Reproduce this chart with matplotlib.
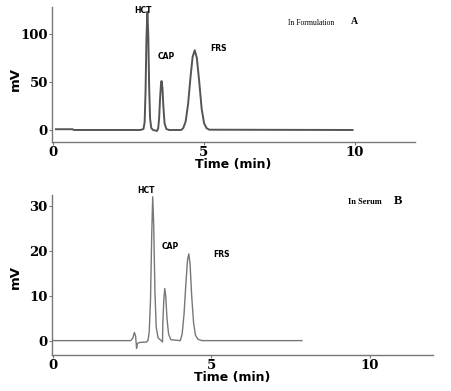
import matplotlib
matplotlib.use('Agg')
from matplotlib import pyplot as plt

# trace A (in formulation): time (min), signal (mV)
time_a = [0.1, 0.65, 0.7, 2.9, 3.0, 3.04, 3.07, 3.10, 3.13, 3.16, 3.19, 3.22, 3.26, 3.32,
          3.45, 3.49, 3.52, 3.55, 3.58, 3.60, 3.63, 3.66, 3.70, 3.76, 3.85,
          4.25, 4.32, 4.40, 4.48, 4.56, 4.63, 4.70, 4.77, 4.85, 4.93, 5.01, 5.09, 5.18, 9.93]
mv_a = [0.8, 0.8, 0.0, 0.0, 1, 8, 40, 95, 123, 100, 45, 12, 2, 0,
        -1, 2, 12, 32, 47, 51, 44, 25, 7, 1, 0,
        0, 2, 9, 27, 55, 76, 83, 75, 50, 22, 7, 2, 0.3, 0]

# trace B (in serum)
time_b = [0.0, 2.45, 2.52, 2.57, 2.61, 2.64, 2.67, 2.75, 2.95, 3.0, 3.04, 3.08, 3.12, 3.15,
          3.18, 3.22, 3.26, 3.32, 3.42, 3.46, 3.47, 3.50, 3.53, 3.56, 3.60, 3.65, 3.72,
          4.02, 4.08, 4.14, 4.20, 4.25, 4.29, 4.33, 4.38, 4.44, 4.50, 4.58, 4.70, 7.86]
mv_b = [0.0, 0.0, 0.5, 1.8, 1.0, -1.7, -0.6, -0.4, -0.3, 0.0, 2, 9, 24, 32,
        26, 11, 3, 0.6, 0.0, -0.3, 4, 9, 11.6, 10, 5, 1.5, 0.2,
        0.0, 1.5, 6, 13, 18, 19.3, 17, 10, 4, 1.2, 0.3, 0, 0]

xticks = [0, 5, 10]
yticks_a = [0, 50, 100]
yticks_b = [0, 10, 20, 30]

fig = plt.figure(figsize=(4.51, 3.91), dpi=100)
ax_a = fig.add_axes([52 / 451, 1 - 142 / 391, 363 / 451, 135 / 391])
ax_b = fig.add_axes([52 / 451, 1 - 355 / 391, 381 / 451, 160 / 391])

ax_a.plot(time_a, mv_a, color='#555555', lw=1.4)
ax_b.plot(time_b, mv_b, color='#777777', lw=1.0)

serif = 'Liberation Serif'
setup = [(ax_a, yticks_a, (-12.5, 128), (0.499, -0.118), (-0.083, 0.47)),
         (ax_b, yticks_b, (-3.2, 32.4), (0.472, -0.1), (-0.079, 0.49))]
for ax, yticks, ylim, xl_pos, yl_pos in setup:
    ax.set_xlim(-0.03, 12)
    ax.set_ylim(*ylim)
    ax.set_xticks(xticks)
    ax.set_yticks(yticks)
    for s in ['top', 'right']:
        ax.spines[s].set_visible(False)
    for s in ['left', 'bottom']:
        ax.spines[s].set_color('#777777')
        ax.spines[s].set_linewidth(1.0)
    ax.tick_params(length=2, width=0.8, color='#777777', pad=1)
    for lab in ax.get_xticklabels() + ax.get_yticklabels():
        lab.set_fontfamily('DejaVu Serif')
        lab.set_fontweight('bold')
        lab.set_fontsize(9.5)
    ax.set_xlabel('Time (min)', fontsize=9, fontweight='bold')
    ax.set_ylabel('mV', fontsize=9.5, fontweight='bold')
    ax.xaxis.set_label_coords(*xl_pos)
    ax.yaxis.set_label_coords(*yl_pos)

# labels, panel A
ax_a.text(3.00, 124, 'HCT', fontsize=5.5, fontweight='bold', ha='center', va='center')
ax_a.text(3.75, 77, 'CAP', fontsize=5.5, fontweight='bold', ha='center', va='center')
ax_a.text(5.5, 85, 'FRS', fontsize=5.5, fontweight='bold', ha='center', va='center')
ax_a.text(8.55, 111, 'In Formulation', fontsize=5.5, family=serif, ha='center', va='center')
ax_a.text(10.0, 113, 'A', fontsize=7, family=serif, fontweight='bold', ha='center', va='center')

# labels, panel B
ax_b.text(2.93, 33.5, 'HCT', fontsize=5.5, fontweight='bold', ha='center', va='center')
ax_b.text(3.70, 21, 'CAP', fontsize=5.5, fontweight='bold', ha='center', va='center')
ax_b.text(5.33, 19.2, 'FRS', fontsize=5.5, fontweight='bold', ha='center', va='center')
ax_b.text(9.85, 30.8, 'In Serum', fontsize=6, family=serif, fontweight='bold', ha='center', va='center')
ax_b.text(10.9, 31.0, 'B', fontsize=9, family=serif, fontweight='bold', ha='center', va='center')

fig.savefig('out.png', dpi=100)
